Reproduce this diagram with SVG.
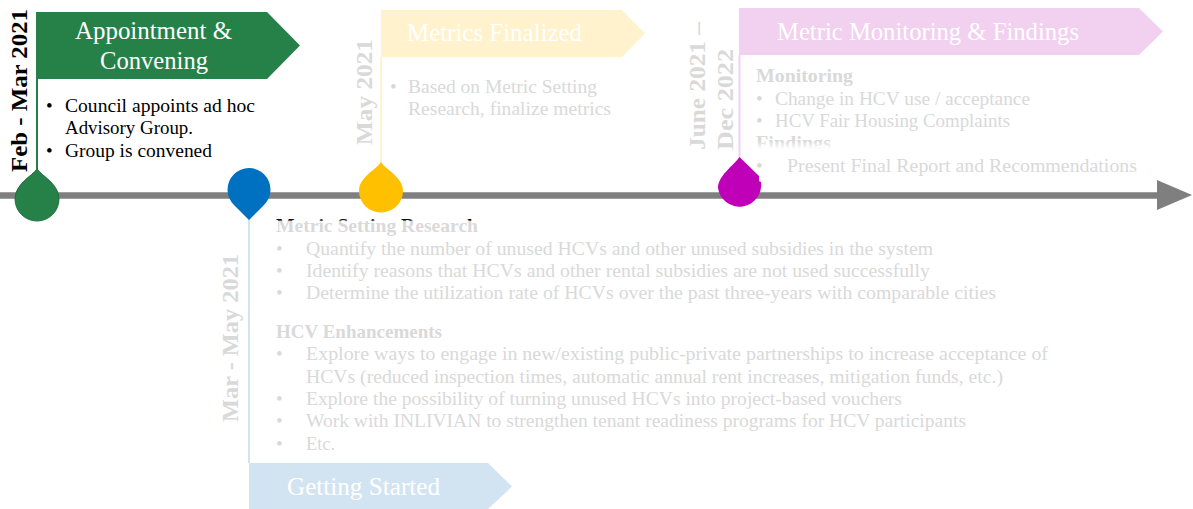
<svg xmlns="http://www.w3.org/2000/svg" width="1193" height="509" viewBox="0 0 1193 509">
<style>
text{font-family:"Liberation Serif","Times New Roman",serif}
.b{font-size:19px;fill:#d9d9d9}
.k{font-size:19px;fill:#000}
.h{font-size:19px;font-weight:bold;fill:#d9d9d9}
.t{font-size:26px;fill:#fff}
.d{font-size:24px;font-weight:bold;fill:#d9d9d9}
</style>
<defs>
<linearGradient id="gm" gradientUnits="userSpaceOnUse" x1="0" y1="220" x2="0" y2="221.500"><stop offset="0" stop-color="#111"/><stop offset="1" stop-color="#d9d9d9"/></linearGradient>
<linearGradient id="gf" gradientUnits="userSpaceOnUse" x1="0" y1="141" x2="0" y2="149"><stop offset="0" stop-color="#d9d9d9"/><stop offset="1" stop-color="#fff"/></linearGradient>
</defs>
<g id="connectors">
<path d="M0 195.500H1160" stroke="#7f7f7f" stroke-width="6.500" fill="none"/>
<path d="M1157 180L1192 195L1157 210Z" fill="#7f7f7f"/>
<path d="M37 79V172" stroke="#268149" stroke-width="2"/>
<path d="M249 218V463" stroke="#d2e4f2" stroke-width="2"/>
<path d="M381 57V164" stroke="#fff2cc" stroke-width="2"/>
<path d="M739.500 55V160" stroke="#f2d0f0" stroke-width="2"/>
</g>
<g id="node-appointment">
<path d="M37 169C42 176 59 184 59 199A22 22 0 0 1 15 199C15 184 32 176 37 169Z" fill="#268149" stroke="#1f6e3d" stroke-width="1"/>
<path d="M36 12H267L300 45.500L267 79H36Z" fill="#268149"/>
<text class="t" x="75" y="39" textLength="157" lengthAdjust="spacingAndGlyphs">Appointment &amp;</text>
<text class="t" x="100" y="69" textLength="108" lengthAdjust="spacingAndGlyphs">Convening</text>
<text class="d" style="fill:#000" transform="translate(27 172) rotate(-90)" textLength="163" lengthAdjust="spacingAndGlyphs">Feb - Mar 2021</text>
<text class="k" x="46" y="112">•</text>
<text class="k" x="65" y="112" textLength="190" lengthAdjust="spacingAndGlyphs">Council appoints ad hoc</text>
<text class="k" x="65" y="134" textLength="128" lengthAdjust="spacingAndGlyphs">Advisory Group.</text>
<text class="k" x="46" y="157">•</text>
<text class="k" x="65" y="157" textLength="147" lengthAdjust="spacingAndGlyphs">Group is convened</text>
</g>
<g id="node-getting-started">
<path d="M249 220L234 205A21.500 21.500 0 1 1 264 205Z" fill="#0070c0"/>
<path d="M249 463H488L512 486.500L488 509H249Z" fill="#d2e4f2"/>
<text class="t" x="287" y="495" textLength="153" lengthAdjust="spacingAndGlyphs">Getting Started</text>
<text class="d" transform="translate(238 422) rotate(-90)" textLength="168" lengthAdjust="spacingAndGlyphs">Mar - May 2021</text>
<text class="h" x="276" y="232" textLength="202" lengthAdjust="spacingAndGlyphs" style="fill:url(#gm)">Metric Setting Research</text>
<text class="b" x="276" y="255">•</text><text class="b" x="306" y="255" textLength="627" lengthAdjust="spacingAndGlyphs">Quantify the number of unused HCVs and other unused subsidies in the system</text>
<text class="b" x="276" y="277">•</text><text class="b" x="306" y="277" textLength="624" lengthAdjust="spacingAndGlyphs">Identify reasons that HCVs and other rental subsidies are not used successfully</text>
<text class="b" x="276" y="299">•</text><text class="b" x="306" y="299" textLength="690" lengthAdjust="spacingAndGlyphs">Determine the utilization rate of HCVs over the past three-years with comparable cities</text>
<text class="h" x="276" y="338" textLength="166" lengthAdjust="spacingAndGlyphs">HCV Enhancements</text>
<text class="b" x="276" y="360">•</text><text class="b" x="306" y="360" textLength="742" lengthAdjust="spacingAndGlyphs">Explore ways to engage in new/existing public-private partnerships to increase acceptance of</text>
<text class="b" x="306" y="383" textLength="697" lengthAdjust="spacingAndGlyphs">HCVs (reduced inspection times, automatic annual rent increases, mitigation funds, etc.)</text>
<text class="b" x="276" y="405">•</text><text class="b" x="306" y="405" textLength="596" lengthAdjust="spacingAndGlyphs">Explore the possibility of turning unused HCVs into project-based vouchers</text>
<text class="b" x="276" y="427">•</text><text class="b" x="306" y="427" textLength="660" lengthAdjust="spacingAndGlyphs">Work with INLIVIAN to strengthen tenant readiness programs for HCV participants</text>
<text class="b" x="276" y="450">•</text><text class="b" x="306" y="450" textLength="29" lengthAdjust="spacingAndGlyphs">Etc.</text>
</g>
<g id="node-metrics-finalized">
<path d="M381 162C386 170 403 177 403 191A22 21.500 0 0 1 359 191C359 177 376 170 381 162Z" fill="#ffc000"/>
<path d="M381 10H622L645 33.500L622 57H381Z" fill="#fff2cc"/>
<text class="t" x="407" y="41" textLength="175" lengthAdjust="spacingAndGlyphs">Metrics Finalized</text>
<text class="d" transform="translate(372 145) rotate(-90)" textLength="106" lengthAdjust="spacingAndGlyphs">May 2021</text>
<text class="b" x="390" y="93">•</text>
<text class="b" x="408" y="93" textLength="189" lengthAdjust="spacingAndGlyphs">Based on Metric Setting</text>
<text class="b" x="408" y="115" textLength="203" lengthAdjust="spacingAndGlyphs">Research, finalize metrics</text>
</g>
<g id="node-monitoring">
<path d="M739.500 157L759 176V181L761 182A21.500 21.500 0 1 1 718 188C718 176 733 166 739.500 157Z" fill="#c000b8"/>
<path d="M739 8H1139L1163 31.500L1139 55H739Z" fill="#f2d0f0"/>
<text class="t" x="777" y="40" textLength="302" lengthAdjust="spacingAndGlyphs">Metric Monitoring &amp; Findings</text>
<text class="d" transform="translate(705 150) rotate(-90)" textLength="128" lengthAdjust="spacingAndGlyphs">June 2021 –</text>
<text class="d" transform="translate(733 150) rotate(-90)" textLength="101" lengthAdjust="spacingAndGlyphs">Dec 2022</text>
<text class="h" x="756" y="82" textLength="97" lengthAdjust="spacingAndGlyphs">Monitoring</text>
<text class="b" x="756" y="105">•</text><text class="b" x="775" y="105" textLength="255" lengthAdjust="spacingAndGlyphs">Change in HCV use / acceptance</text>
<text class="b" x="756" y="127">•</text><text class="b" x="775" y="127" textLength="235" lengthAdjust="spacingAndGlyphs">HCV Fair Housing Complaints</text>
<text class="h" x="756" y="149" textLength="75" lengthAdjust="spacingAndGlyphs" style="fill:url(#gf)">Findings</text>
<text class="b" x="756" y="172">•</text><text class="b" x="787" y="172" textLength="350" lengthAdjust="spacingAndGlyphs">Present Final Report and Recommendations</text>
</g>
</svg>
